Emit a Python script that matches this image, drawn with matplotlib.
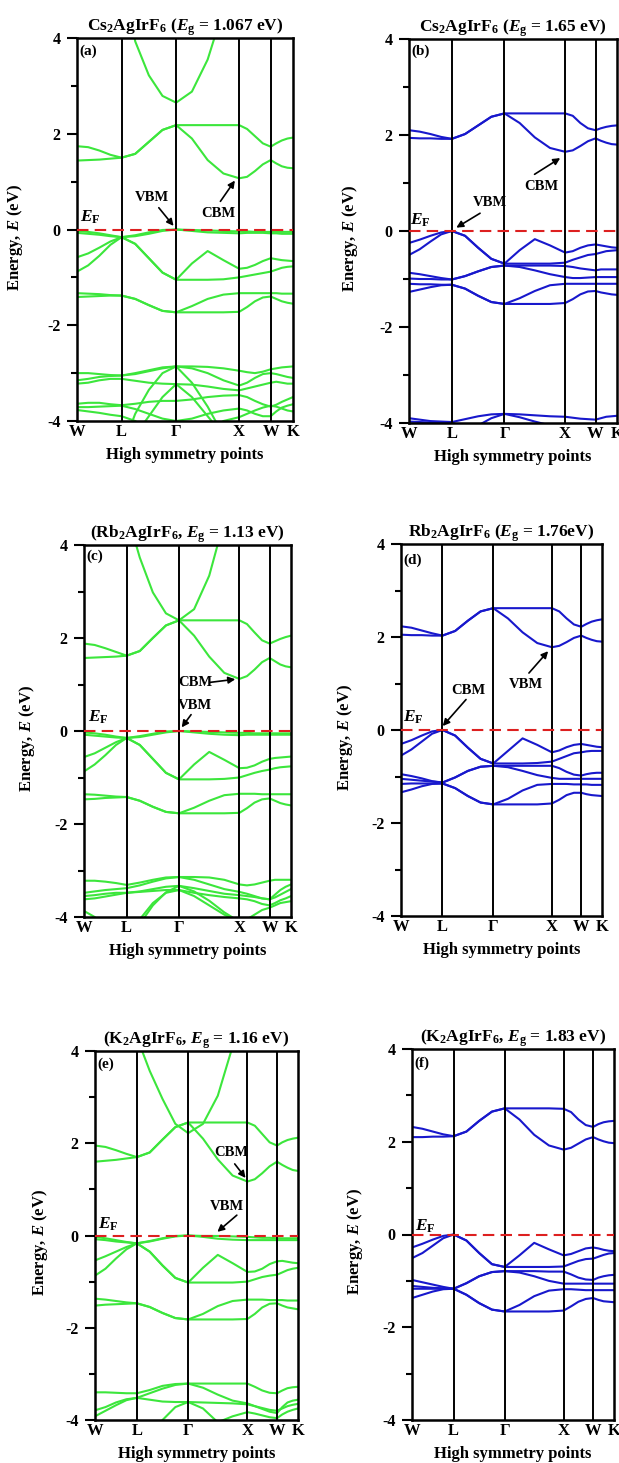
import matplotlib
matplotlib.use("Agg")
import matplotlib.pyplot as plt
import numpy as np

plt.rcParams['font.family'] = ['Liberation Serif', 'DejaVu Serif']
plt.rcParams['font.weight'] = 'bold'
plt.rcParams['axes.unicode_minus'] = False
plt.rcParams['mathtext.fontset'] = 'custom'
plt.rcParams['mathtext.rm'] = 'Liberation Serif:bold'
plt.rcParams['mathtext.it'] = 'Liberation Serif:italic:bold'
plt.rcParams['mathtext.bf'] = 'Liberation Serif:bold'

# high symmetry path W-L-G-X-W-K (fcc, units of 2pi/a)
k_nodes = [0.0, 0.707, 1.573, 2.573, 3.073, 3.427]
k_labels = ["W", "L", "Γ", "X", "W", "K"]

# each band: energies (eV) read at 4 steps per segment -> 21 values
bands_a = [
    [6.0, 6.0, 6.0, 5.8, 5.6, 3.93, 3.22, 2.79, 2.65, 2.88, 3.55, 4.6, 5.8, 6.0, 6.0, 6.0, 6.0, 6.0, 6.0, 6.0, 6.0],
    [1.74, 1.72, 1.65, 1.56, 1.50, 1.58, 1.83, 2.08, 2.18, 2.18, 2.18, 2.18, 2.18, 2.10, 1.95, 1.80, 1.73, 1.80, 1.86, 1.90, 1.92],
    [1.44, 1.45, 1.46, 1.48, 1.50, 1.58, 1.83, 2.08, 2.18, 1.90, 1.45, 1.17, 1.07, 1.10, 1.22, 1.36, 1.45, 1.38, 1.32, 1.29, 1.28],
    [-0.03, -0.05, -0.08, -0.12, -0.16, -0.12, -0.06, -0.01, 0.0, -0.01, -0.02, -0.03, -0.04, -0.04, -0.05, -0.05, -0.05, -0.05, -0.05, -0.05, -0.05],
    [-0.07, -0.09, -0.11, -0.14, -0.16, -0.14, -0.09, -0.03, 0.0, -0.03, -0.06, -0.07, -0.08, -0.07, -0.07, -0.07, -0.08, -0.08, -0.09, -0.09, -0.09],
    [-0.58, -0.50, -0.38, -0.25, -0.16, -0.30, -0.60, -0.90, -1.05, -0.71, -0.45, -0.64, -0.82, -0.80, -0.74, -0.66, -0.60, -0.62, -0.64, -0.65, -0.66],
    [-0.88, -0.75, -0.55, -0.32, -0.16, -0.30, -0.60, -0.90, -1.05, -1.05, -1.05, -1.04, -1.00, -0.97, -0.94, -0.91, -0.88, -0.84, -0.80, -0.78, -0.77],
    [-1.33, -1.34, -1.35, -1.37, -1.38, -1.45, -1.58, -1.70, -1.73, -1.60, -1.45, -1.36, -1.33, -1.33, -1.33, -1.33, -1.33, -1.33, -1.34, -1.34, -1.34],
    [-1.41, -1.40, -1.39, -1.38, -1.38, -1.45, -1.58, -1.70, -1.73, -1.73, -1.73, -1.73, -1.72, -1.62, -1.50, -1.42, -1.40, -1.45, -1.50, -1.53, -1.55],
    [-3.00, -3.00, -3.02, -3.04, -3.05, -3.00, -2.94, -2.88, -2.86, -2.86, -2.87, -2.90, -2.95, -2.98, -3.00, -2.97, -2.92, -2.90, -2.88, -2.87, -2.86],
    [-3.15, -3.12, -3.08, -3.06, -3.05, -3.02, -2.96, -2.90, -2.86, -2.90, -3.00, -3.15, -3.26, -3.20, -3.10, -3.02, -3.00, -3.02, -3.05, -3.08, -3.10],
    [-3.22, -3.20, -3.15, -3.12, -3.12, -3.16, -3.20, -3.22, -3.23, -3.24, -3.28, -3.33, -3.36, -3.32, -3.28, -3.24, -3.20, -3.18, -3.20, -3.22, -3.22],
    [-3.64, -3.62, -3.62, -3.65, -3.67, -3.64, -3.60, -3.58, -3.58, -3.55, -3.50, -3.47, -3.46, -3.50, -3.58, -3.65, -3.70, -3.66, -3.60, -3.55, -3.50],
    [-3.71, -3.71, -3.70, -3.69, -3.68, -3.75, -3.85, -3.95, -4.00, -3.95, -3.85, -3.78, -3.74, -3.78, -3.85, -3.90, -3.90, -3.80, -3.72, -3.68, -3.65],
    [-3.77, -3.80, -3.83, -3.87, -3.90, -4.00, -4.20, -4.40, -4.50, -4.40, -4.20, -4.00, -3.92, -3.85, -3.78, -3.72, -3.68, -3.70, -3.74, -3.78, -3.80],
    [-5.0, -5.0, -5.0, -5.0, -4.60, -3.85, -3.35, -3.00, -2.86, -3.20, -3.70, -4.30, -5.0, -5.0, -5.0, -5.0, -5.0, -5.0, -5.0, -5.0, -5.0],
    [-5.0, -5.0, -5.0, -5.0, -5.0, -4.30, -3.90, -3.50, -3.23, -3.50, -3.90, -4.30, -4.80, -5.0, -5.0, -5.0, -5.0, -5.0, -5.0, -5.0, -5.0],
]

bands_b = [
    [2.10, 2.07, 2.02, 1.96, 1.92, 2.02, 2.20, 2.38, 2.45, 2.45, 2.45, 2.45, 2.45, 2.40, 2.25, 2.14, 2.10, 2.14, 2.17, 2.19, 2.20],
    [1.94, 1.93, 1.93, 1.92, 1.92, 2.02, 2.20, 2.38, 2.45, 2.25, 1.95, 1.73, 1.65, 1.68, 1.77, 1.87, 1.93, 1.88, 1.84, 1.81, 1.80],
    [-0.25, -0.18, -0.10, -0.03, 0.0, -0.10, -0.35, -0.58, -0.68, -0.40, -0.17, -0.30, -0.45, -0.42, -0.35, -0.30, -0.28, -0.30, -0.32, -0.34, -0.35],
    [-0.50, -0.38, -0.22, -0.07, 0.0, -0.10, -0.35, -0.58, -0.68, -0.68, -0.68, -0.68, -0.66, -0.60, -0.55, -0.50, -0.48, -0.45, -0.42, -0.41, -0.40],
    [-0.87, -0.90, -0.94, -0.98, -1.01, -0.94, -0.84, -0.75, -0.72, -0.72, -0.72, -0.72, -0.73, -0.75, -0.78, -0.80, -0.82, -0.80, -0.80, -0.80, -0.80],
    [-0.99, -1.00, -1.00, -1.01, -1.01, -0.94, -0.84, -0.75, -0.72, -0.75, -0.82, -0.90, -0.96, -0.98, -0.98, -0.97, -0.96, -0.96, -0.96, -0.96, -0.96],
    [-1.10, -1.11, -1.11, -1.12, -1.12, -1.20, -1.35, -1.48, -1.52, -1.40, -1.25, -1.13, -1.10, -1.10, -1.10, -1.10, -1.10, -1.10, -1.10, -1.10, -1.10],
    [-1.27, -1.22, -1.17, -1.13, -1.12, -1.20, -1.35, -1.48, -1.52, -1.52, -1.52, -1.52, -1.50, -1.42, -1.32, -1.26, -1.25, -1.28, -1.30, -1.32, -1.33],
    [-3.90, -3.93, -3.96, -3.97, -3.98, -3.92, -3.86, -3.82, -3.81, -3.82, -3.84, -3.86, -3.87, -3.89, -3.91, -3.92, -3.93, -3.90, -3.87, -3.86, -3.85],
    [-3.97, -3.98, -3.99, -3.99, -3.99, -4.10, -4.05, -3.90, -3.81, -3.88, -3.97, -4.05, -4.10, -4.10, -4.10, -4.10, -4.10, -4.10, -4.10, -4.10, -4.10],
]

bands_c = [
    [6.0, 6.0, 6.0, 5.4, 4.7, 3.73, 2.98, 2.53, 2.38, 2.62, 3.34, 4.53, 5.8, 6.0, 6.0, 6.0, 6.0, 6.0, 6.0, 6.0, 6.0],
    [1.88, 1.85, 1.78, 1.70, 1.62, 1.72, 2.00, 2.27, 2.38, 2.38, 2.38, 2.38, 2.38, 2.30, 2.12, 1.95, 1.88, 1.93, 1.98, 2.02, 2.05],
    [1.57, 1.58, 1.59, 1.60, 1.62, 1.72, 2.00, 2.27, 2.38, 2.05, 1.60, 1.25, 1.12, 1.18, 1.32, 1.48, 1.57, 1.50, 1.43, 1.39, 1.37],
    [-0.03, -0.05, -0.08, -0.12, -0.15, -0.11, -0.06, -0.01, 0.0, -0.01, -0.02, -0.03, -0.04, -0.04, -0.05, -0.05, -0.05, -0.05, -0.05, -0.05, -0.05],
    [-0.08, -0.10, -0.12, -0.14, -0.15, -0.13, -0.08, -0.03, 0.0, -0.03, -0.06, -0.08, -0.09, -0.08, -0.08, -0.08, -0.08, -0.08, -0.08, -0.08, -0.08],
    [-0.56, -0.48, -0.36, -0.24, -0.15, -0.30, -0.60, -0.90, -1.04, -0.72, -0.45, -0.62, -0.80, -0.79, -0.74, -0.66, -0.60, -0.58, -0.57, -0.56, -0.55],
    [-0.87, -0.72, -0.52, -0.30, -0.15, -0.30, -0.60, -0.90, -1.04, -1.04, -1.04, -1.03, -1.00, -0.95, -0.90, -0.86, -0.83, -0.80, -0.78, -0.77, -0.76],
    [-1.36, -1.37, -1.39, -1.41, -1.42, -1.50, -1.63, -1.74, -1.77, -1.65, -1.50, -1.38, -1.35, -1.35, -1.35, -1.36, -1.36, -1.36, -1.36, -1.36, -1.36],
    [-1.47, -1.46, -1.44, -1.43, -1.42, -1.50, -1.63, -1.74, -1.77, -1.77, -1.77, -1.77, -1.76, -1.66, -1.54, -1.47, -1.45, -1.50, -1.55, -1.58, -1.60],
    [-3.22, -3.22, -3.24, -3.27, -3.31, -3.26, -3.20, -3.15, -3.14, -3.14, -3.15, -3.20, -3.30, -3.32, -3.30, -3.26, -3.22, -3.20, -3.20, -3.20, -3.20],
    [-3.48, -3.45, -3.42, -3.40, -3.38, -3.32, -3.24, -3.17, -3.14, -3.20, -3.30, -3.40, -3.46, -3.50, -3.55, -3.60, -3.62, -3.52, -3.42, -3.35, -3.30],
    [-3.55, -3.53, -3.50, -3.48, -3.48, -3.45, -3.40, -3.35, -3.33, -3.38, -3.44, -3.50, -3.53, -3.55, -3.57, -3.60, -3.62, -3.58, -3.52, -3.46, -3.40],
    [-3.62, -3.60, -3.56, -3.52, -3.48, -3.46, -3.44, -3.42, -3.42, -3.48, -3.53, -3.57, -3.60, -3.62, -3.66, -3.72, -3.75, -3.70, -3.64, -3.60, -3.55],
    [-3.87, -4.00, -4.30, -4.60, -4.80, -4.05, -3.70, -3.48, -3.42, -3.55, -3.75, -3.95, -4.10, -4.05, -3.95, -3.85, -3.80, -3.75, -3.70, -3.68, -3.66],
    [-5.0, -5.0, -5.0, -5.0, -5.0, -4.15, -3.75, -3.47, -3.33, -3.45, -3.65, -3.90, -4.10, -4.30, -4.50, -4.60, -4.60, -4.60, -4.60, -4.60, -4.60],
]

bands_d = [
    [2.23, 2.20, 2.14, 2.08, 2.03, 2.13, 2.35, 2.55, 2.62, 2.62, 2.62, 2.62, 2.62, 2.55, 2.40, 2.27, 2.22, 2.28, 2.33, 2.36, 2.38],
    [2.05, 2.04, 2.04, 2.03, 2.03, 2.13, 2.35, 2.55, 2.62, 2.40, 2.10, 1.87, 1.78, 1.81, 1.89, 1.98, 2.03, 1.98, 1.94, 1.91, 1.90],
    [-0.30, -0.22, -0.12, -0.03, 0.0, -0.12, -0.38, -0.62, -0.72, -0.45, -0.18, -0.32, -0.48, -0.44, -0.37, -0.32, -0.30, -0.32, -0.34, -0.36, -0.37],
    [-0.55, -0.42, -0.25, -0.08, 0.0, -0.12, -0.38, -0.62, -0.72, -0.72, -0.72, -0.71, -0.68, -0.62, -0.56, -0.50, -0.48, -0.46, -0.45, -0.45, -0.45],
    [-0.95, -0.99, -1.04, -1.10, -1.13, -1.02, -0.88, -0.79, -0.77, -0.77, -0.77, -0.77, -0.77, -0.82, -0.90, -0.96, -0.98, -0.95, -0.93, -0.92, -0.92],
    [-1.05, -1.07, -1.09, -1.11, -1.13, -1.02, -0.88, -0.79, -0.77, -0.80, -0.88, -0.97, -1.03, -1.05, -1.05, -1.05, -1.05, -1.05, -1.05, -1.05, -1.05],
    [-1.16, -1.15, -1.15, -1.15, -1.15, -1.25, -1.42, -1.56, -1.60, -1.48, -1.30, -1.18, -1.16, -1.16, -1.16, -1.17, -1.17, -1.17, -1.18, -1.18, -1.18],
    [-1.34, -1.28, -1.21, -1.16, -1.15, -1.25, -1.42, -1.56, -1.60, -1.60, -1.60, -1.60, -1.58, -1.50, -1.40, -1.35, -1.35, -1.38, -1.40, -1.41, -1.42],
]

bands_e = [
    [6.0, 6.0, 6.0, 5.0, 4.3, 3.57, 2.96, 2.42, 2.22, 2.42, 3.03, 4.10, 5.5, 6.0, 6.0, 6.0, 6.0, 6.0, 6.0, 6.0, 6.0],
    [1.95, 1.92, 1.85, 1.77, 1.70, 1.80, 2.08, 2.35, 2.45, 2.45, 2.45, 2.45, 2.45, 2.38, 2.20, 2.02, 1.95, 2.02, 2.07, 2.10, 2.12],
    [1.60, 1.62, 1.64, 1.67, 1.70, 1.80, 2.08, 2.35, 2.45, 2.10, 1.65, 1.30, 1.17, 1.22, 1.35, 1.50, 1.60, 1.53, 1.47, 1.42, 1.40],
    [-0.03, -0.06, -0.10, -0.14, -0.17, -0.12, -0.06, -0.01, 0.0, -0.01, -0.01, -0.02, -0.03, -0.04, -0.05, -0.05, -0.06, -0.06, -0.06, -0.06, -0.06],
    [-0.08, -0.10, -0.13, -0.15, -0.17, -0.13, -0.07, -0.02, 0.0, -0.03, -0.07, -0.09, -0.10, -0.10, -0.10, -0.10, -0.10, -0.10, -0.10, -0.10, -0.10],
    [-0.54, -0.45, -0.35, -0.25, -0.17, -0.35, -0.65, -0.92, -1.02, -0.70, -0.42, -0.60, -0.79, -0.78, -0.72, -0.62, -0.56, -0.55, -0.57, -0.59, -0.60],
    [-0.87, -0.72, -0.50, -0.30, -0.17, -0.35, -0.65, -0.92, -1.02, -1.02, -1.02, -1.02, -1.00, -0.95, -0.90, -0.87, -0.85, -0.80, -0.75, -0.72, -0.70],
    [-1.37, -1.39, -1.42, -1.45, -1.47, -1.55, -1.68, -1.79, -1.82, -1.70, -1.53, -1.42, -1.39, -1.39, -1.39, -1.40, -1.40, -1.40, -1.41, -1.41, -1.41],
    [-1.52, -1.50, -1.49, -1.48, -1.47, -1.55, -1.68, -1.79, -1.82, -1.82, -1.82, -1.82, -1.81, -1.70, -1.56, -1.48, -1.47, -1.52, -1.56, -1.58, -1.60],
    [-3.40, -3.40, -3.41, -3.42, -3.42, -3.35, -3.26, -3.22, -3.21, -3.21, -3.21, -3.21, -3.21, -3.28, -3.36, -3.41, -3.42, -3.36, -3.31, -3.29, -3.28],
    [-3.79, -3.72, -3.62, -3.55, -3.52, -3.42, -3.32, -3.24, -3.21, -3.30, -3.45, -3.58, -3.64, -3.70, -3.76, -3.82, -3.85, -3.72, -3.62, -3.58, -3.56],
    [-3.92, -3.80, -3.68, -3.57, -3.52, -3.56, -3.60, -3.61, -3.61, -3.62, -3.63, -3.64, -3.66, -3.70, -3.74, -3.78, -3.80, -3.75, -3.70, -3.67, -3.65],
    [-5.0, -5.0, -5.0, -5.0, -5.0, -4.60, -4.00, -3.72, -3.61, -3.75, -4.05, -4.50, -5.0, -5.0, -5.0, -5.0, -5.0, -5.0, -5.0, -5.0, -5.0],
    [-4.50, -4.50, -4.50, -4.50, -4.50, -4.50, -4.50, -4.40, -4.30, -4.20, -4.05, -3.92, -3.83, -3.86, -3.90, -3.94, -3.96, -3.88, -3.82, -3.78, -3.75],
]

bands_f = [
    [2.32, 2.28, 2.22, 2.16, 2.12, 2.22, 2.45, 2.65, 2.72, 2.72, 2.72, 2.72, 2.71, 2.64, 2.48, 2.36, 2.32, 2.38, 2.42, 2.44, 2.45],
    [2.10, 2.10, 2.11, 2.11, 2.12, 2.22, 2.45, 2.65, 2.72, 2.48, 2.15, 1.92, 1.83, 1.87, 1.96, 2.05, 2.10, 2.05, 2.01, 1.98, 1.97],
    [-0.28, -0.20, -0.11, -0.03, 0.0, -0.13, -0.40, -0.64, -0.70, -0.45, -0.18, -0.32, -0.45, -0.42, -0.36, -0.30, -0.28, -0.30, -0.33, -0.35, -0.36],
    [-0.51, -0.40, -0.24, -0.08, 0.0, -0.13, -0.40, -0.64, -0.70, -0.70, -0.70, -0.70, -0.69, -0.63, -0.57, -0.53, -0.52, -0.48, -0.44, -0.41, -0.40],
    [-0.98, -1.03, -1.08, -1.13, -1.17, -1.05, -0.90, -0.81, -0.79, -0.79, -0.79, -0.80, -0.80, -0.86, -0.93, -0.97, -0.98, -0.93, -0.90, -0.88, -0.87],
    [-1.11, -1.13, -1.15, -1.16, -1.17, -1.05, -0.90, -0.81, -0.79, -0.82, -0.90, -1.00, -1.06, -1.06, -1.06, -1.06, -1.06, -1.06, -1.06, -1.06, -1.06],
    [-1.17, -1.17, -1.17, -1.17, -1.17, -1.30, -1.48, -1.62, -1.66, -1.52, -1.33, -1.21, -1.18, -1.18, -1.19, -1.20, -1.20, -1.20, -1.20, -1.20, -1.20],
    [-1.37, -1.30, -1.23, -1.18, -1.17, -1.30, -1.48, -1.62, -1.66, -1.66, -1.66, -1.66, -1.64, -1.55, -1.45, -1.39, -1.37, -1.41, -1.44, -1.45, -1.46],
]

titles = [
    r"Cs$_2$AgIrF$_6$ ($E_{\rm g}$ = 1.067 eV)",
    r"Cs$_2$AgIrF$_6$ ($E_{\rm g}$ = 1.65 eV)",
    r"(Rb$_2$AgIrF$_6$, $E_{\rm g}$ = 1.13 eV)",
    r"Rb$_2$AgIrF$_6$ ($E_{\rm g}$ = 1.76eV)",
    r"(K$_2$AgIrF$_6$, $E_{\rm g}$ = 1.16 eV)",
    r"(K$_2$AgIrF$_6$, $E_{\rm g}$ = 1.83 eV)",
]
panel_tags = ["(a)", "(b)", "(c)", "(d)", "(e)", "(f)"]
all_bands = [bands_a, bands_b, bands_c, bands_d, bands_e, bands_f]

GREEN = "#3ce63c"
BLUE = "#1818cc"
colors = [GREEN, BLUE, GREEN, BLUE, GREEN, BLUE]

# axes boxes in pixels: left, right, top, bottom
W_PX, H_PX = 619, 1463
boxes = [
    (77, 293, 38, 421),
    (409, 617, 39, 423),
    (84, 291, 545, 917),
    (401, 602, 544, 916),
    (95, 298, 1051, 1420),
    (412, 614, 1049, 1420),
]
ylab_x = [-0.24, -0.235, -0.228, -0.23, -0.222, -0.232]
ef_pos = [(0.05, 0.25), (0.02, 0.23), (0.06, 0.30), (0.03, 0.28), (0.05, 0.24), (0.05, 0.18)]
tag_y = [3.72, 3.75, 3.76, 3.65, 3.72, 3.70]

# (label, text_xy, arrow_tail, arrow_head) per panel
annots = [
    [("VBM", (1.19, 0.67), (1.27, 0.50), (1.56, 0.03)),
     ("CBM", (2.24, 0.33), (2.25, 0.54), (2.53, 1.07))],
    [("VBM", (1.33, 0.59), (1.21, 0.40), (0.74, 0.04)),
     ("CBM", (2.18, 0.92), (2.03, 1.15), (2.53, 1.55))],
    [("CBM", (1.84, 1.05), (2.05, 1.04), (2.55, 1.12)),
     ("VBM", (1.84, 0.54), (1.80, 0.40), (1.59, 0.03))],
    [("CBM", (1.14, 0.86), (1.14, 0.70), (0.68, 0.04)),
     ("VBM", (2.13, 0.97), (2.15, 1.18), (2.54, 1.74))],
    [("CBM", (2.30, 1.80), (2.33, 1.60), (2.57, 1.20)),
     ("VBM", (2.23, 0.63), (2.43, 0.48), (2.03, 0.04))],
    [],
]

fig = plt.figure(figsize=(W_PX / 100, H_PX / 100), dpi=100)

k_fine = [k_nodes[0]]
for k0, k1 in zip(k_nodes[:-1], k_nodes[1:]):
    k_fine += list(np.linspace(k0, k1, 5)[1:])
k_fine = np.array(k_fine)

for i in range(6):
    l, r, t, b = boxes[i]
    ax = fig.add_axes([l / W_PX, 1 - b / H_PX, (r - l) / W_PX, (b - t) / H_PX])

    for band in all_bands[i]:
        ax.plot(k_fine, band, color=colors[i], lw=1.5, zorder=2)

    for kn in k_nodes[1:-1]:
        ax.axvline(kn, color="black", lw=1.4, zorder=3)
    ax.axhline(0, color="#dd2020", lw=1.5, ls=(0, (5.5, 3)), zorder=4)

    ax.set_xlim(k_nodes[0], k_nodes[-1])
    ax.set_ylim(-4, 4)
    ax.set_xticks(k_nodes)
    ax.set_xticklabels(k_labels, fontsize=12, fontweight="bold")
    ax.tick_params(axis="x", length=0, pad=2)
    ax.set_yticks([-4, -2, 0, 2, 4])
    ax.set_yticks([-3, -1, 1, 3], minor=True)
    ax.tick_params(axis="y", which="major", length=7, width=1.5, direction="out", labelsize=11.5, pad=5)
    ax.tick_params(axis="y", which="minor", length=4, width=1.5, direction="out")
    for lab in ax.get_yticklabels():
        lab.set_fontweight("bold")
    for sp in ax.spines.values():
        sp.set_linewidth(1.8)

    ax.set_title(titles[i], fontsize=12.5, fontweight="bold", pad=5)
    ax.set_xlabel("High symmetry points", fontsize=12, fontweight="bold", labelpad=5)
    ax.set_ylabel(r"Energy, $E$ (eV)", fontsize=12, fontweight="bold")
    ax.yaxis.set_label_coords(ylab_x[i], 0.48)

    ax.text(0.04, tag_y[i], panel_tags[i], fontsize=11, fontweight="bold", ha="left", va="center")
    ax.text(ef_pos[i][0], ef_pos[i][1], r"$E_{\rm F}$", fontsize=12.5, ha="left", va="center")

    for label, txy, tail, head in annots[i]:
        ax.text(txy[0], txy[1], label, fontsize=10.5, fontweight="bold", ha="center", va="center", zorder=6)
        ax.annotate("", xy=head, xytext=tail,
                    arrowprops=dict(arrowstyle="-|>", color="black", lw=1.2, mutation_scale=10),
                    zorder=6)

fig.savefig("out.png", dpi=100)
